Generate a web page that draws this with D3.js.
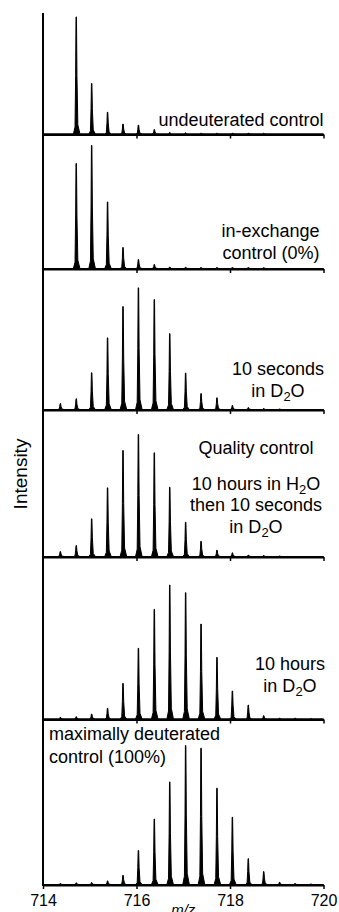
<!DOCTYPE html>
<html>
<head>
<meta charset="utf-8">
<script src="https://cdn.jsdelivr.net/npm/d3@7"></script>
<style>
  html, body { margin: 0; padding: 0; background: #fff; }
  svg { display: block; font-family: "Liberation Sans", Arial, Helvetica, sans-serif; }
</style>
</head>
<body>
<svg id="chart" width="339" height="912"></svg>
<script>
// Isotope peak centroids (m/z) of the 3+ ion envelope
const peakMz = [714.37, 714.71, 715.04, 715.38, 715.71, 716.04, 716.38, 716.71, 717.05,
                717.38, 717.72, 718.05, 718.39, 718.72, 719.06, 719.39, 719.73];

// Relative peak intensities (%, base peak = 100), one value per centroid
const undeuterated   = [0, 100, 43.2, 18.6, 8.5, 7.6, 3.8, 1.3, 1.0, 0.8, 0.8, 0.8, 0.8, 0.7, 0, 0, 0];
const inExchange     = [0, 85.4, 100, 54.1, 17.1, 7.3, 3.3, 1.2, 1.0, 0.8, 0.8, 0.8, 0.8, 0.7, 0, 0, 0];
const tenSeconds     = [4.9, 8.8, 30.2, 58.9, 84.6, 100, 90.4, 62.4, 30.0, 13.1, 9.6, 3.3, 1.6, 0.8, 0.4, 0, 0];
const qualityControl = [4.1, 9.0, 30.9, 56.3, 86.9, 100, 85.0, 56.8, 28.1, 12.5, 5.2, 3.0, 1.2, 0.8, 0.4, 0, 0];
const tenHours       = [1.3, 1.7, 3.7, 8.0, 26.6, 52.8, 81.9, 100, 94.3, 70.9, 46.0, 20.9, 10.4, 2.5, 0.7, 0.7, 0.4];
const maxDeuterated  = [0.7, 1.2, 1.4, 2.6, 6.6, 24.5, 47.1, 73.8, 100, 98.1, 69.3, 48.4, 18.6, 9.3, 1.6, 0.7, 0.4];

// Panel captions ("_2" marks a subscript 2)
const captionUndeut  = ["undeuterated control"];
const captionInEx    = ["in-exchange", "control (0%)"];
const caption10s     = ["10 seconds", "in D_2O"];
const captionQC      = ["Quality control", "", "10 hours in H_2O", "then 10 seconds", "in D_2O"];
const caption10h     = ["10 hours", "in D_2O"];
const captionMax     = ["maximally deuterated", "control (100%)"];

const xDomain = [714, 720];
const xTickValues = [714, 716, 718, 720];
const xTitle = "m/z";
const yTitle = "Intensity";

// ---- layout ----
const svg = d3.select("#chart");
const x = d3.scaleLinear().domain(xDomain).range([43, 323.5]);
const axisX = 43;

const panels = [
  { values: undeuterated,   top: 13,    base: 134.5, yMax: 103.8, caption: captionUndeut, anchor: "end",    tx: 323.5, ty: [126] },
  { values: inExchange,     top: 134.5, base: 269,   yMax: 109.3, caption: captionInEx,   anchor: "end",    tx: 319.5, ty: [236.7, 259] },
  { values: tenSeconds,     top: 269,   base: 410,   yMax: 115.9, caption: caption10s,    anchor: "middle", tx: 278,   ty: [375, 397] },
  { values: qualityControl, top: 410,   base: 557,   yMax: 120.5, caption: captionQC,     anchor: "middle", tx: 256,   ty: [454, 0, 489.5, 511, 533] },
  { values: tenHours,       top: 557,   base: 719.5, yMax: 121.3, caption: caption10h,    anchor: "middle", tx: 290,   ty: [669.5, 691.5] },
  { values: maxDeuterated,  top: 719.5, base: 885,   yMax: 119.1, caption: captionMax,    anchor: "start",  tx: 49,    ty: [739.5, 763] }
];

// Profile template for one centroid: [m/z offset, fraction of peak height]
const peakShape = [[-0.06, 0], [-0.025, 0.06], [-0.012, 0.5], [-0.004, 1], [0.006, 1],
                   [0.016, 0.5], [0.035, 0.08], [0.08, 0]];

panels.forEach((p, i) => {
  const y = d3.scaleLinear().domain([0, p.yMax]).range([p.base, p.top]);
  const pts = [[xDomain[0], 0]];
  peakMz.forEach((mz, k) => {
    const v = p.values[k];
    if (v > 0) peakShape.forEach(([dm, f]) => pts.push([mz + dm, v * f]));
  });
  pts.push([xDomain[1], 0]);

  const line = d3.line().x(d => x(d[0])).y(d => y(d[1]) - 0.5);
  svg.append("path")
    .attr("d", line(pts) + "Z")
    .attr("fill", "#000")
    .attr("stroke", "#000")
    .attr("stroke-width", 1)
    .attr("stroke-linejoin", "round");

  const last = i === panels.length - 1;
  const axis = d3.axisBottom(x)
    .tickValues(last ? xTickValues : xTickValues.slice(1))
    .tickSize(4)
    .tickSizeOuter(0)
    .tickPadding(6)
    .tickFormat(last ? d3.format("d") : "");
  const g = svg.append("g").attr("transform", `translate(0,${p.base})`).call(axis);
  g.attr("font-size", 16).attr("font-family", "'Liberation Sans', Arial, sans-serif");
  g.select(".domain").attr("stroke", "#000").attr("stroke-width", 2);
  g.selectAll(".tick line").attr("stroke", "#000").attr("stroke-width", 1.5);
  g.selectAll(".tick text").attr("fill", "#000").attr("font-size", 16);

  // caption
  p.caption.forEach((txt, j) => {
    if (!txt) return;
    const t = svg.append("text")
      .attr("x", p.tx).attr("y", p.ty[j])
      .attr("text-anchor", p.anchor)
      .attr("font-size", 18)
      .attr("fill", "#000");
    txt.split(/(_2)/).forEach(seg => {
      if (seg === "_2") {
        t.append("tspan").attr("font-size", 13).attr("dy", 4).text("2");
      } else if (seg) {
        const prevSub = t.selectAll("tspan").size() > 0 &&
          t.select("tspan:last-child").text() === "2";
        t.append("tspan").attr("dy", prevSub ? -4 : 0).text(seg);
      }
    });
  });
});

// vertical intensity axis
svg.append("line")
  .attr("x1", axisX).attr("x2", axisX)
  .attr("y1", panels[0].top).attr("y2", panels[panels.length - 1].base + 1)
  .attr("stroke", "#000").attr("stroke-width", 2);

// axis titles
svg.append("text")
  .attr("transform", "translate(27,474) rotate(-90)")
  .attr("text-anchor", "middle")
  .attr("font-size", 19)
  .attr("fill", "#000")
  .text(yTitle);

svg.append("text")
  .attr("x", (x.range()[0] + x.range()[1]) / 2)
  .attr("y", 915)
  .attr("text-anchor", "middle")
  .attr("font-size", 15)
  .attr("font-style", "italic")
  .attr("fill", "#000")
  .text(xTitle);
</script>
</body>
</html>
